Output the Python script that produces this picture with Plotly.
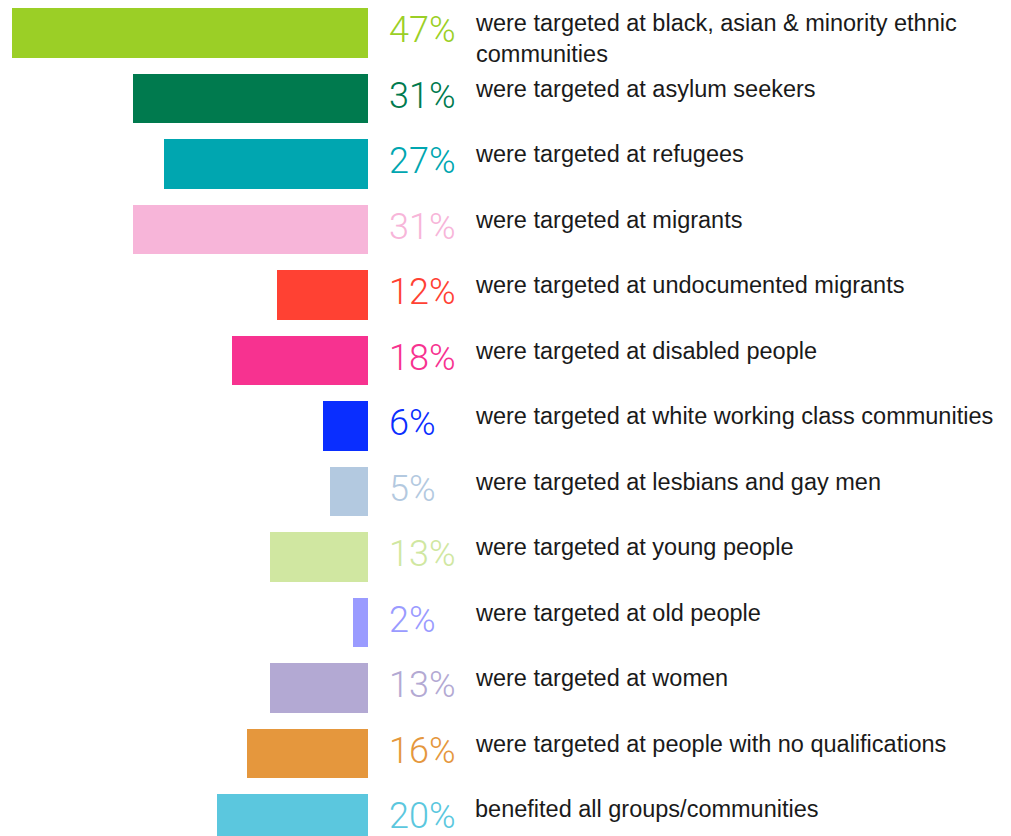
import plotly.graph_objects as go

# === data ===
values = [47, 31, 27, 31, 12, 18, 6, 5, 13, 2, 13, 16, 20]
descriptions = [
    "were targeted at black, asian & minority ethnic<br>communities",
    "were targeted at asylum seekers",
    "were targeted at refugees",
    "were targeted at migrants",
    "were targeted at undocumented migrants",
    "were targeted at disabled people",
    "were targeted at white working class communities",
    "were targeted at lesbians and gay men",
    "were targeted at young people",
    "were targeted at old people",
    "were targeted at women",
    "were targeted at people with no qualifications",
    "benefited all groups/communities",
]
colors = ["#9BCF26", "#007A4E", "#00A6B0", "#F7B5D9", "#FF4133", "#F73290",
          "#0A2EFF", "#B3C9E0", "#D0E7A1", "#9A9BFF", "#B3A9D3", "#E5973D", "#5BC7DE"]

rows = list(range(len(values)))

fig = go.Figure()

fig.add_trace(go.Bar(
    x=[-v for v in values],
    y=rows,
    orientation="h",
    marker=dict(color=colors, line=dict(width=0)),
    width=0.76,
    hoverinfo="skip",
))

# percentage labels + descriptions
for i, (v, d, c) in enumerate(zip(values, descriptions, colors)):
    fig.add_annotation(
        x=0, y=i, xref="x", yref="y",
        text=f"{v}%", showarrow=False,
        xanchor="left", yanchor="middle", xshift=19, yshift=3,
        font=dict(family="Roboto", size=36, color=c, weight=300),
    )
    fig.add_annotation(
        x=0, y=i, xref="x", yref="y",
        text=d, showarrow=False, align="left",
        xanchor="left", yanchor="top", xshift=105, yshift=25,
        font=dict(family="Liberation Sans", size=23.5, color="#1a1a1a"),
    )

# page body has an 8px margin, so the figure origin sits at (8, 8) on screen
px_per_unit = 7.57
zero_px = 360
fig.update_xaxes(range=[-zero_px / px_per_unit, (1011 - zero_px) / px_per_unit],
                 visible=False, fixedrange=True)
fig.update_yaxes(range=[(836 - 25) / 65.5, -25 / 65.5],
                 visible=False, fixedrange=True)

fig.update_layout(
    width=1011, height=836,
    margin=dict(l=0, r=0, t=0, b=0),
    plot_bgcolor="white", paper_bgcolor="white",
    showlegend=False,
    bargap=0,
)

fig.write_html("out.html")
